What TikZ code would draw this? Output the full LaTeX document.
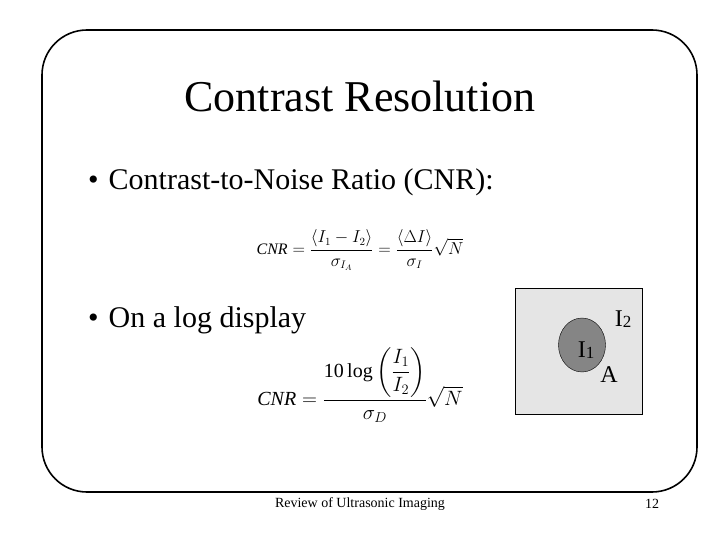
\documentclass[tikz,border=0pt]{standalone}
\usepackage{fontspec}
\setmainfont{Liberation Serif}
\usepackage{amsmath}
\usetikzlibrary{shapes.geometric}
\begin{document}
\begin{tikzpicture}[x=1pt,y=-1pt,
  txt/.style={inner sep=0pt,anchor=west}]
\useasboundingbox (0,0) rectangle (720,540);
\draw[line width=1.6pt,rounded corners=45pt] (42,30) rectangle (697,492);
\node[inner sep=0pt,font=\fontsize{44}{46}\selectfont] (title) at (360,96) {Contrast Resolution};
\node[txt,font=\fontsize{30}{32}\selectfont] (b1) at (88,182) {\textbullet\,\,Contrast-to-Noise Ratio (CNR):};
\node[inner sep=0pt,font=\fontsize{16}{18}\selectfont] (eq1) at (360,250)
  {$\mathit{CNR}=\dfrac{\left\langle I_1-I_2\right\rangle}{\sigma_{I_A}}=\dfrac{\left\langle \Delta I\right\rangle}{\sigma_I}\sqrt{N}$};
\node[txt,font=\fontsize{30}{32}\selectfont] (b2) at (88,320) {\textbullet\,\,On a log display};
\node[inner sep=0pt,font=\fontsize{20}{22}\selectfont] (eq2) at (360,385)
  {$\mathit{CNR}=\dfrac{\text{10\,log}\left(\dfrac{I_1}{I_2}\right)}{\sigma_D}\sqrt{N}$};
\node[draw,fill=black!10,minimum width=127pt,minimum height=126pt,inner sep=0pt] (box) at (578.5,351) {};
\node[draw,ellipse,fill=black!48,minimum width=47pt,minimum height=54pt,inner sep=0pt] (circ) at (582,345) {};
\node[inner sep=0pt,font=\fontsize{24}{26}\selectfont] (i1) at (586,350) {I\raisebox{-1pt}{\fontsize{17}{19}\selectfont 1}};
\node[inner sep=0pt,font=\fontsize{24}{26}\selectfont] (i2) at (623,319) {I\raisebox{-1pt}{\fontsize{17}{19}\selectfont 2}};
\node[inner sep=0pt,font=\fontsize{24}{26}\selectfont] (a) at (609,375) {A};
\node[inner sep=0pt,font=\fontsize{14}{16}\selectfont] (foot) at (360,504) {Review of Ultrasonic Imaging};
\node[inner sep=0pt,font=\fontsize{14}{16}\selectfont] (num) at (652,504) {12};
\end{tikzpicture}
\end{document}
